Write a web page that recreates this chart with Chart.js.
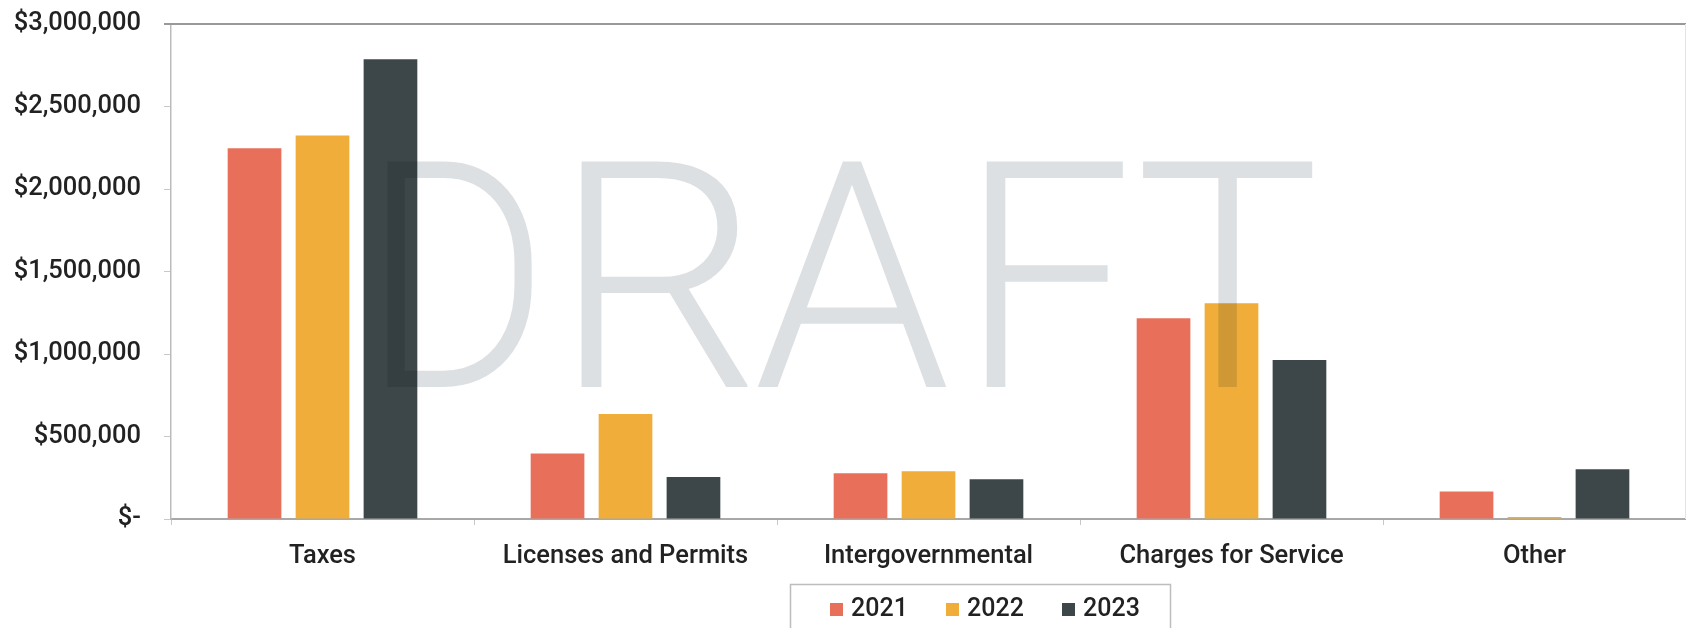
<!DOCTYPE html>
<html>
<head>
<meta charset="utf-8">
<script src="https://cdn.jsdelivr.net/npm/chart.js@4"></script>
<style>
  html, body { margin: 0; background: #fff; }
  #wrap { width: 1686px; height: 628px; }
</style>
</head>
<body>
<div id="wrap"><canvas id="c"></canvas></div>
<script>
// Revenue by source, three fiscal years, with the "DRAFT" stamp over it.
const CATEGORIES = ["Taxes", "Licenses and Permits", "Intergovernmental", "Charges for Service", "Other"];
const YEARS = ["2021", "2022", "2023"];
const REV_2021 = [2247000, 397000, 278000, 1217000, 167000];
const REV_2022 = [2325000, 637000, 290000, 1308000, 12000];
const REV_2023 = [2787000, 255000, 241000, 963000, 302000];
const Y_MAX = 3000000, Y_STEP = 500000;

const COLORS = ["#e8705b", "#f0ad3a", "#3d4749"];
const INK = "#222", AXIS = "#a8a8a8";

Chart.defaults.font.family = "Roboto, 'Noto Sans', sans-serif";
Chart.defaults.font.size = 25.5;
Chart.defaults.font.weight = 500;
Chart.defaults.color = INK;

const money = (v) => (v === 0 ? "$-" : "$" + v.toLocaleString("en-US"));

// top and right edges of the plot frame
const frame = {
  id: "frame",
  beforeDatasetsDraw(chart) {
    const { ctx, chartArea: a } = chart;
    ctx.save();
    ctx.strokeStyle = "#999";
    ctx.lineWidth = 2;
    ctx.beginPath();
    ctx.moveTo(a.left - 7, a.top); ctx.lineTo(a.right, a.top);
    ctx.stroke();
    ctx.strokeStyle = "#e4e4e4";
    ctx.lineWidth = 1;
    ctx.beginPath();
    ctx.moveTo(a.right - 0.5, a.top); ctx.lineTo(a.right - 0.5, a.bottom);
    ctx.stroke();
    ctx.restore();
  },
};

// the pale DRAFT stamp, multiplied over the bars; each letter fitted to its box
const STAMP = [["D", 384, 532], ["R", 578, 748], ["A", 753, 951], ["F", 983, 1123], ["T", 1140, 1314]];
const watermark = {
  id: "watermark",
  afterDatasetsDraw(chart) {
    const ctx = chart.ctx;
    ctx.save();
    ctx.globalCompositeOperation = "multiply";
    ctx.fillStyle = "rgb(221,224,226)";
    ctx.font = "300 320px Roboto";
    ctx.textBaseline = "alphabetic";
    const capH = ctx.measureText("H").actualBoundingBoxAscent;
    for (const [ch, x0, x1] of STAMP) {
      const m = ctx.measureText(ch);
      const w = m.actualBoundingBoxLeft + m.actualBoundingBoxRight;
      ctx.save();
      ctx.translate(x0, 387);
      ctx.scale((x1 - x0) / w, 228 / capH);
      ctx.fillText(ch, m.actualBoundingBoxLeft, 0);
      ctx.restore();
    }
    ctx.restore();
  },
};

// boxed legend sitting under the middle categories
const boxLegend = {
  id: "boxLegend",
  afterDraw(chart) {
    const ctx = chart.ctx;
    ctx.save();
    ctx.strokeStyle = "#bdbdbd";
    ctx.lineWidth = 1.5;
    ctx.strokeRect(790.5, 584.5, 380, 60);
    ctx.font = "500 25px Roboto";
    ctx.textBaseline = "middle";
    let x = 830;
    chart.data.datasets.forEach((ds) => {
      ctx.fillStyle = ds.backgroundColor;
      ctx.fillRect(x, 603, 13, 13);
      ctx.fillStyle = INK;
      ctx.fillText(ds.label, x + 21, 610);
      x += 116;
    });
    ctx.restore();
  },
};

new Chart(document.getElementById("c"), {
  type: "bar",
  data: {
    labels: CATEGORIES,
    datasets: [
      { label: YEARS[0], data: REV_2021, backgroundColor: COLORS[0] },
      { label: YEARS[1], data: REV_2022, backgroundColor: COLORS[1] },
      { label: YEARS[2], data: REV_2023, backgroundColor: COLORS[2] },
    ],
  },
  options: {
    responsive: true,
    maintainAspectRatio: false,
    animation: false,
    layout: { padding: { top: 24, right: 0, bottom: 0, left: 0 } },
    datasets: { bar: { categoryPercentage: 0.673, barPercentage: 0.79 } },
    plugins: { legend: { display: false }, tooltip: { enabled: false } },
    scales: {
      x: {
        afterFit: (s) => { s.height = 109; s.paddingLeft = 0; s.paddingRight = 0; },
        border: { color: AXIS, width: 2 },
        grid: { drawOnChartArea: false, tickLength: 6, color: "#c8c8c8" },
        ticks: { padding: 16, maxRotation: 0, autoSkip: false, color: INK },
      },
      y: {
        min: 0,
        max: Y_MAX,
        afterFit: (s) => { s.width = 171; s.paddingTop = 0; s.paddingBottom = 0; },
        border: { color: "#bbb", width: 1.5 },
        grid: { drawOnChartArea: false, tickLength: 7, color: "#c8c8c8" },
        ticks: { stepSize: Y_STEP, padding: 23, color: INK, callback: money },
      },
    },
  },
  plugins: [frame, watermark, boxLegend],
});
</script>
</body>
</html>
